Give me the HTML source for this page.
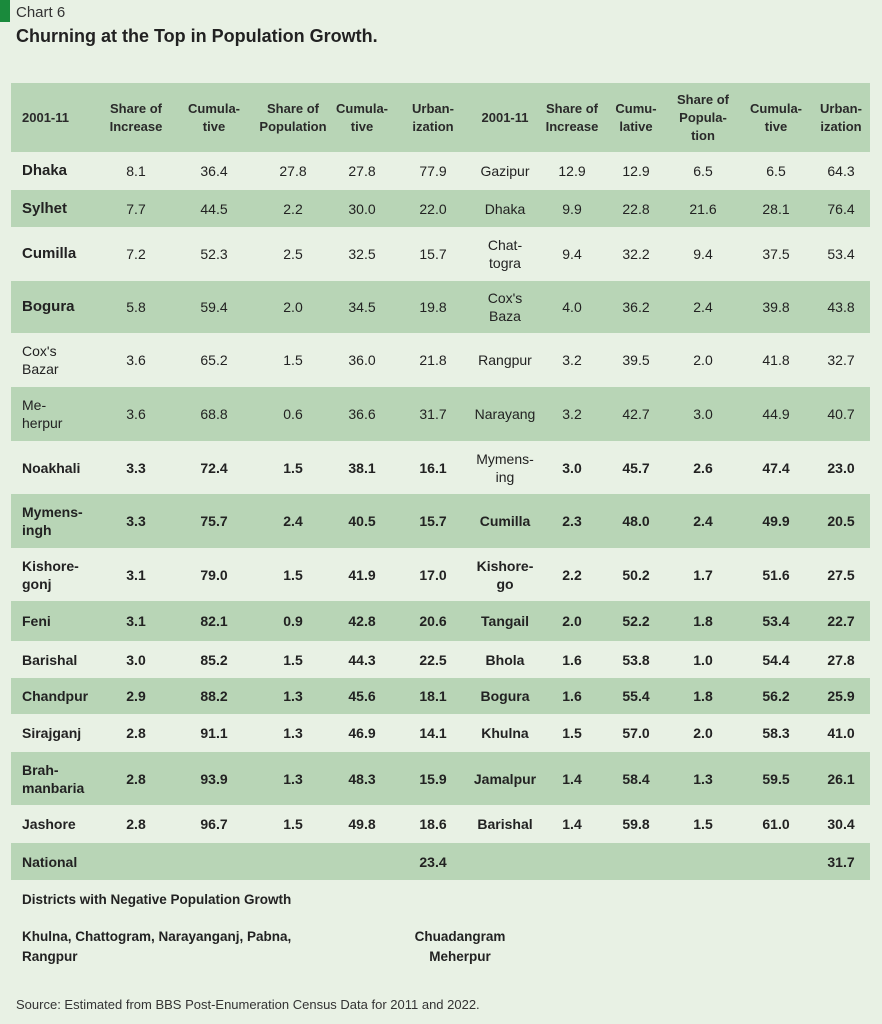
<!DOCTYPE html>
<html><head><meta charset="utf-8"><style>
body{margin:0;width:882px;height:1024px;background:#e8f1e4;font-family:"Liberation Sans",sans-serif;color:#222;position:relative;overflow:hidden}
.bar{position:absolute;left:0;top:0;width:10px;height:22px;background:#1a8a3c}
.t1{position:absolute;left:16px;top:4px;font-size:15px;color:#333}
.t2{position:absolute;left:16px;top:26px;font-size:18px;font-weight:bold;color:#222}
table{position:absolute;left:11px;top:83px;border-collapse:collapse;table-layout:fixed;width:859px;font-size:14px}
td{padding:0;text-align:center;line-height:18px}
td:first-child{text-align:left;padding-left:11px}
tr.s td{background:#b8d5b6}
tr.h td{font-weight:bold;font-size:13px;color:#2a2a2a}
.b td{font-weight:bold}
.big td:first-child{font-size:15px;font-weight:bold}
.foot{position:absolute;font-size:13.5px;font-weight:bold;line-height:20px}
.src{position:absolute;left:16px;top:997px;font-size:13px;color:#333}
</style></head><body>
<div class="bar"></div>
<div class="t1">Chart 6</div>
<div class="t2">Churning at the Top in Population Growth.</div>
<table>
<colgroup><col style="width:89px"><col style="width:72px"><col style="width:84px"><col style="width:74px"><col style="width:64px"><col style="width:78px"><col style="width:66px"><col style="width:68px"><col style="width:60px"><col style="width:74px"><col style="width:72px"><col style="width:58px"></colgroup>
<tr class="s h" style="height:69px"><td>2001-11</td><td>Share of<br>Increase</td><td>Cumula-<br>tive</td><td>Share of<br>Population</td><td>Cumula-<br>tive</td><td>Urban-<br>ization</td><td>2001-11</td><td>Share of<br>Increase</td><td>Cumu-<br>lative</td><td>Share of<br>Popula-<br>tion</td><td>Cumula-<br>tive</td><td>Urban-<br>ization</td></tr>
<tr class="big" style="height:38px"><td>Dhaka</td><td>8.1</td><td>36.4</td><td>27.8</td><td>27.8</td><td>77.9</td><td>Gazipur</td><td>12.9</td><td>12.9</td><td>6.5</td><td>6.5</td><td>64.3</td></tr>
<tr class="s big" style="height:37px"><td>Sylhet</td><td>7.7</td><td>44.5</td><td>2.2</td><td>30.0</td><td>22.0</td><td>Dhaka</td><td>9.9</td><td>22.8</td><td>21.6</td><td>28.1</td><td>76.4</td></tr>
<tr class="big" style="height:54px"><td>Cumilla</td><td>7.2</td><td>52.3</td><td>2.5</td><td>32.5</td><td>15.7</td><td>Chat-<br>togra</td><td>9.4</td><td>32.2</td><td>9.4</td><td>37.5</td><td>53.4</td></tr>
<tr class="s big" style="height:52px"><td>Bogura</td><td>5.8</td><td>59.4</td><td>2.0</td><td>34.5</td><td>19.8</td><td>Cox's<br>Baza</td><td>4.0</td><td>36.2</td><td>2.4</td><td>39.8</td><td>43.8</td></tr>
<tr style="height:54px"><td>Cox's<br>Bazar</td><td>3.6</td><td>65.2</td><td>1.5</td><td>36.0</td><td>21.8</td><td>Rangpur</td><td>3.2</td><td>39.5</td><td>2.0</td><td>41.8</td><td>32.7</td></tr>
<tr class="s" style="height:54px"><td>Me-<br>herpur</td><td>3.6</td><td>68.8</td><td>0.6</td><td>36.6</td><td>31.7</td><td>Narayang</td><td>3.2</td><td>42.7</td><td>3.0</td><td>44.9</td><td>40.7</td></tr>
<tr class="b" style="height:53px"><td>Noakhali</td><td>3.3</td><td>72.4</td><td>1.5</td><td>38.1</td><td>16.1</td><td style="font-weight:normal">Mymens-<br>ing</td><td>3.0</td><td>45.7</td><td>2.6</td><td>47.4</td><td>23.0</td></tr>
<tr class="s b" style="height:54px"><td>Mymens-<br>ingh</td><td>3.3</td><td>75.7</td><td>2.4</td><td>40.5</td><td>15.7</td><td>Cumilla</td><td>2.3</td><td>48.0</td><td>2.4</td><td>49.9</td><td>20.5</td></tr>
<tr class="b" style="height:53px"><td>Kishore-<br>gonj</td><td>3.1</td><td>79.0</td><td>1.5</td><td>41.9</td><td>17.0</td><td>Kishore-<br>go</td><td>2.2</td><td>50.2</td><td>1.7</td><td>51.6</td><td>27.5</td></tr>
<tr class="s b" style="height:40px"><td>Feni</td><td>3.1</td><td>82.1</td><td>0.9</td><td>42.8</td><td>20.6</td><td>Tangail</td><td>2.0</td><td>52.2</td><td>1.8</td><td>53.4</td><td>22.7</td></tr>
<tr class="b" style="height:37px"><td>Barishal</td><td>3.0</td><td>85.2</td><td>1.5</td><td>44.3</td><td>22.5</td><td>Bhola</td><td>1.6</td><td>53.8</td><td>1.0</td><td>54.4</td><td>27.8</td></tr>
<tr class="s b" style="height:36px"><td>Chandpur</td><td>2.9</td><td>88.2</td><td>1.3</td><td>45.6</td><td>18.1</td><td>Bogura</td><td>1.6</td><td>55.4</td><td>1.8</td><td>56.2</td><td>25.9</td></tr>
<tr class="b" style="height:38px"><td>Sirajganj</td><td>2.8</td><td>91.1</td><td>1.3</td><td>46.9</td><td>14.1</td><td>Khulna</td><td>1.5</td><td>57.0</td><td>2.0</td><td>58.3</td><td>41.0</td></tr>
<tr class="s b" style="height:53px"><td>Brah-<br>manbaria</td><td>2.8</td><td>93.9</td><td>1.3</td><td>48.3</td><td>15.9</td><td>Jamalpur</td><td>1.4</td><td>58.4</td><td>1.3</td><td>59.5</td><td>26.1</td></tr>
<tr class="b" style="height:38px"><td>Jashore</td><td>2.8</td><td>96.7</td><td>1.5</td><td>49.8</td><td>18.6</td><td>Barishal</td><td>1.4</td><td>59.8</td><td>1.5</td><td>61.0</td><td>30.4</td></tr>
<tr class="s b" style="height:37px"><td>National</td><td></td><td></td><td></td><td></td><td>23.4</td><td></td><td></td><td></td><td></td><td></td><td>31.7</td></tr>
</table>
<div class="foot" style="left:22px;top:890px">Districts with Negative Population Growth</div>
<div class="foot" style="left:22px;top:927px">Khulna, Chattogram, Narayanganj, Pabna,<br>Rangpur</div>
<div class="foot" style="left:410px;top:927px;width:100px;text-align:center">Chuadangram<br>Meherpur</div>
<div class="src">Source: Estimated from BBS Post-Enumeration Census Data for 2011 and 2022.</div>
</body></html>
